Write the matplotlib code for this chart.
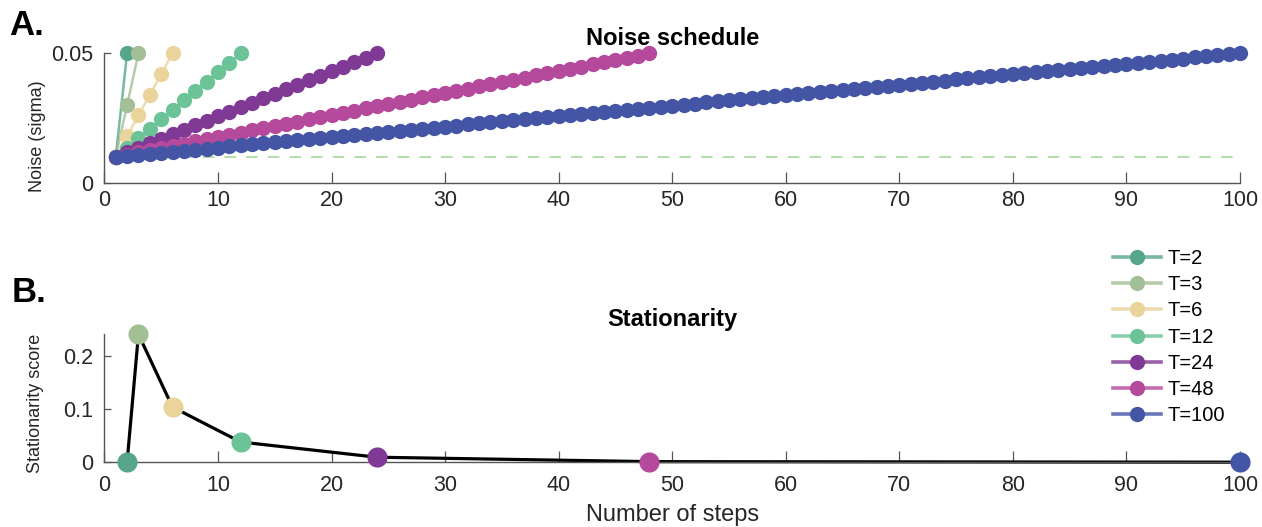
import matplotlib
matplotlib.use("Agg")
import matplotlib.pyplot as plt
from matplotlib.colors import to_rgba

plt.rcParams["font.family"] = ["Liberation Sans", "DejaVu Sans"]

################################################################################
# data

labels = ["T=2", "T=3", "T=6", "T=12", "T=24", "T=48", "T=100"]
num_steps = [2, 3, 6, 12, 24, 48, 100]
colors = ["#57a689", "#a3bf95", "#ebd39c", "#6cc398", "#803994", "#b5499b", "#4355a4"]

noise_T2 = [0.0100, 0.0500]
noise_T3 = [0.0100, 0.0300, 0.0500]
noise_T6 = [0.0100, 0.0180, 0.0260, 0.0340, 0.0420, 0.0500]
noise_T12 = [0.0100, 0.0136, 0.0173, 0.0209, 0.0245, 0.0282, 0.0318, 0.0355,
             0.0391, 0.0427, 0.0464, 0.0500]
noise_T24 = [0.0100, 0.0117, 0.0135, 0.0152, 0.0170, 0.0187, 0.0204, 0.0222,
             0.0239, 0.0257, 0.0274, 0.0291, 0.0309, 0.0326, 0.0343, 0.0361,
             0.0378, 0.0396, 0.0413, 0.0430, 0.0448, 0.0465, 0.0483, 0.0500]
noise_T48 = [0.0100, 0.0109, 0.0117, 0.0126, 0.0134, 0.0143, 0.0151, 0.0160,
             0.0168, 0.0177, 0.0185, 0.0194, 0.0202, 0.0211, 0.0219, 0.0228,
             0.0236, 0.0245, 0.0253, 0.0262, 0.0270, 0.0279, 0.0287, 0.0296,
             0.0304, 0.0313, 0.0321, 0.0330, 0.0338, 0.0347, 0.0355, 0.0364,
             0.0372, 0.0381, 0.0389, 0.0398, 0.0406, 0.0415, 0.0423, 0.0432,
             0.0440, 0.0449, 0.0457, 0.0466, 0.0474, 0.0483, 0.0491, 0.0500]
noise_T100 = [0.0100, 0.0104, 0.0108, 0.0112, 0.0116, 0.0120, 0.0124, 0.0128,
              0.0132, 0.0136, 0.0140, 0.0144, 0.0148, 0.0153, 0.0157, 0.0161,
              0.0165, 0.0169, 0.0173, 0.0177, 0.0181, 0.0185, 0.0189, 0.0193,
              0.0197, 0.0201, 0.0205, 0.0209, 0.0213, 0.0217, 0.0221, 0.0225,
              0.0229, 0.0233, 0.0237, 0.0241, 0.0245, 0.0249, 0.0254, 0.0258,
              0.0262, 0.0266, 0.0270, 0.0274, 0.0278, 0.0282, 0.0286, 0.0290,
              0.0294, 0.0298, 0.0302, 0.0306, 0.0310, 0.0314, 0.0318, 0.0322,
              0.0326, 0.0330, 0.0334, 0.0338, 0.0342, 0.0346, 0.0351, 0.0355,
              0.0359, 0.0363, 0.0367, 0.0371, 0.0375, 0.0379, 0.0383, 0.0387,
              0.0391, 0.0395, 0.0399, 0.0403, 0.0407, 0.0411, 0.0415, 0.0419,
              0.0423, 0.0427, 0.0431, 0.0435, 0.0439, 0.0443, 0.0447, 0.0452,
              0.0456, 0.0460, 0.0464, 0.0468, 0.0472, 0.0476, 0.0480, 0.0484,
              0.0488, 0.0492, 0.0496, 0.0500]
noise_schedules = [noise_T2, noise_T3, noise_T6, noise_T12, noise_T24, noise_T48, noise_T100]

noise_floor = 0.01
floor_span = [1, 100]

stationarity = [0.0, 0.240, 0.1035, 0.038, 0.0095, 0.0012, 0.0002]

################################################################################

axis_color = "#555555"
text_color = "#262626"


def style_axes(ax, xpad):
    for side in ["top", "right"]:
        ax.spines[side].set_visible(False)
    for side in ["left", "bottom"]:
        ax.spines[side].set_color(axis_color)
        ax.spines[side].set_linewidth(1.0)
    ax.tick_params(axis="x", direction="in", length=8, width=0.9, color=axis_color,
                   labelsize=15.5, labelcolor=text_color, pad=xpad)
    ax.tick_params(axis="y", direction="in", length=5, width=0.9, color=axis_color,
                   labelsize=15.5, labelcolor=text_color, pad=8)
    ax.set_xlim(0, 100)
    ax.set_xticks(range(0, 101, 10))


fig = plt.figure(figsize=(12.62, 5.27), dpi=100)
ax1 = fig.add_axes([0.0827, 0.6533, 0.8999, 0.2455])
ax2 = fig.add_axes([0.0827, 0.1228, 0.8999, 0.2429])

# ---- A: noise schedule
ax1.plot(floor_span, [noise_floor, noise_floor], color="#a6d99c", lw=1.2,
         dashes=(7, 6), zorder=1)
handles = []
for lab, vals, c in zip(labels, noise_schedules, colors):
    xs = list(range(1, len(vals) + 1))
    h, = ax1.plot(xs, vals, "-o", color=to_rgba(c, 0.8), lw=1.8,
                  markerfacecolor=c, markeredgecolor="none", markersize=11,
                  clip_on=False, label=lab, zorder=2)
    handles.append(h)

style_axes(ax1, xpad=5)
ax1.set_ylim(0, 0.05)
ax1.set_yticks([0, 0.05])
ax1.set_yticklabels(["0", "0.05"])
ax1.set_ylabel("Noise (sigma)", fontsize=13, color=text_color)
ax1.yaxis.set_label_coords(-0.051, 0.36)
ax1.set_title("Noise schedule", fontsize=17, fontweight="bold", pad=6)

# ---- B: stationarity
ax2.plot(num_steps, stationarity, color="black", lw=2.3, clip_on=False, zorder=2)
for x, y, c in zip(num_steps, stationarity, colors):
    ax2.plot(x, y, "o", color=c, markeredgecolor="none", markersize=14.5,
             clip_on=False, zorder=3)

style_axes(ax2, xpad=9)
ax2.set_ylim(0, 0.24)
ax2.set_yticks([0, 0.1, 0.2])
ax2.set_yticklabels(["0", "0.1", "0.2"])
ax2.set_ylabel("Stationarity score", fontsize=13, color=text_color)
ax2.yaxis.set_label_coords(-0.053, 0.46)
ax2.set_xlabel("Number of steps", fontsize=17, color=text_color, labelpad=6)
ax2.set_title("Stationarity", fontsize=17, fontweight="bold", pad=6)

leg = fig.legend(handles=handles, loc="upper left",
                 bbox_to_anchor=(1113 / 1262, 1 - 249 / 527), frameon=False,
                 fontsize=14.5, handlelength=2.4, handletextpad=0.3,
                 labelspacing=0.36, borderpad=0, borderaxespad=0, markerscale=1.0)
for t in leg.get_texts():
    t.set_color("black")
for lh in leg.get_lines():
    lh.set_linewidth(2.6)

fig.text(9 / 1262, 1 - 35 / 527, "A.", fontsize=25, fontweight="bold", va="baseline")
fig.text(12 / 1262, 1 - 302 / 527, "B.", fontsize=25, fontweight="bold", va="baseline")

fig.savefig("out.png", dpi=100)
